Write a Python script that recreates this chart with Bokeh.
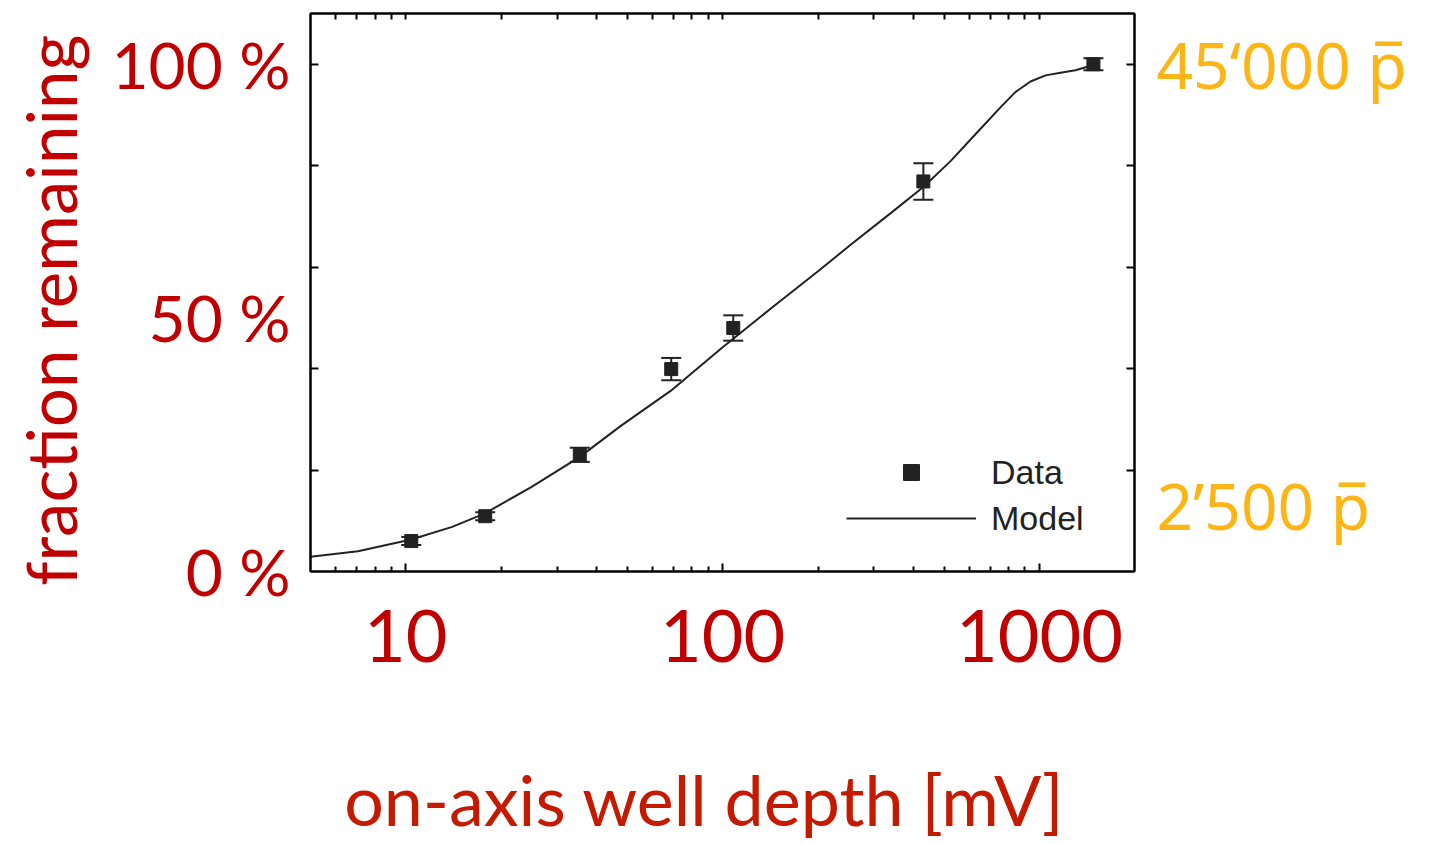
from bokeh.plotting import figure
from bokeh.models import (LogAxis, LinearAxis, FixedTicker, Range1d, Whisker, TeeHead,
                          ColumnDataSource, Legend, LegendItem)
from bokeh.embed import file_html
from bokeh.resources import INLINE

# ---- data ----
data_x = [10.4, 17.8, 35.4, 68.8, 108, 430, 1480]
data_y = [6.0, 10.9, 23.0, 39.9, 48.0, 76.9, 100.0]
data_err = [0.8, 0.8, 1.4, 2.2, 2.5, 3.6, 1.2]

model_x = [5.0, 7.06, 10.4, 14.0, 17.7, 24.8, 35.4, 47.7, 68.5, 100, 141.6, 200, 253.5,
           340, 430, 524, 628, 753, 839, 937, 1045, 1165, 1299, 1417, 1480]
model_y = [2.9, 4.0, 6.3, 8.8, 11.4, 16.6, 22.6, 28.7, 35.6, 44.2, 51.8, 59.2, 64.4,
           70.7, 75.8, 80.9, 86.2, 91.5, 94.5, 96.6, 97.8, 98.3, 98.8, 99.5, 100.0]

left_ticks = [0, 50, 100]
left_labels = ["0 %", "50 %", "100 %"]
right_ticks = [13, 100]
right_labels = ["2\u2019500 p\u0305", "45\u2018000 p\u0305"]
y_minor = [20, 40, 60, 80, 100]
x_major = [10, 100, 1000]
x_labels = ["10", "100", "1000"]
x_minor = [6, 7, 8, 9, 20, 30, 40, 50, 60, 70, 80, 90,
           200, 300, 400, 500, 600, 700, 800, 900]
x_title = "on-axis well depth [mV]"
y_title = "fraction remaining"

RED = "#c00000"
RED2 = "#c41a00"
ORANGE = "#fdb515"
INK = "#222222"
FONT = "Lato"
PAD = "\u00a0\u00a0"   # trailing non-breaking spaces: shift titles off-centre like the reference

p = figure(width=1430, height=844, x_axis_type="log",
           x_range=Range1d(5, 1995), y_range=Range1d(0, 110),
           output_backend="svg", toolbar_location=None,
           min_border_left=310, min_border_right=296,
           min_border_top=13, min_border_bottom=273)
p.grid.visible = False
p.outline_line_color = "black"
p.outline_line_width = 2
p.background_fill_color = "white"
p.border_fill_color = "white"

# bottom axis
xa = p.xaxis[0]
xa.ticker = FixedTicker(ticks=x_major, minor_ticks=x_minor)
xa.major_label_overrides = dict(zip(x_major, x_labels))
xa.major_tick_in = 8
xa.major_tick_out = 0
xa.minor_tick_in = 5
xa.minor_tick_out = 0
xa.axis_line_width = 2
xa.major_tick_line_width = 2
xa.minor_tick_line_width = 2
xa.major_label_text_font = FONT
xa.major_label_text_font_size = "72px"
xa.major_label_text_color = RED
xa.major_label_standoff = 38
xa.axis_label = x_title + PAD
xa.axis_label_text_font = FONT
xa.axis_label_text_font_style = "normal"
xa.axis_label_text_font_size = "70px"
xa.axis_label_text_color = RED2
xa.axis_label_standoff = 92

# top axis (ticks only, no labels)
ta = LogAxis(ticker=FixedTicker(ticks=[], minor_ticks=x_major + x_minor),
             minor_tick_in=6, minor_tick_out=0,
             axis_line_width=2, minor_tick_line_width=2)
p.add_layout(ta, "above")

# left axis
ya = p.yaxis[0]
ya.ticker = FixedTicker(ticks=left_ticks, minor_ticks=y_minor)
ya.major_label_overrides = dict(zip(left_ticks, left_labels))
ya.major_tick_in = 0
ya.major_tick_out = 0
ya.minor_tick_in = 8
ya.minor_tick_out = 0
ya.axis_line_width = 2
ya.minor_tick_line_width = 2
ya.major_label_text_font = FONT
ya.major_label_text_font_size = "64px"
ya.major_label_text_color = RED
ya.major_label_standoff = 20
ya.axis_label = y_title + PAD
ya.axis_label_text_font = FONT
ya.axis_label_text_font_style = "normal"
ya.axis_label_text_font_size = "69px"
ya.axis_label_text_color = RED
ya.axis_label_standoff = 16

# right axis
ra = LinearAxis(ticker=FixedTicker(ticks=right_ticks, minor_ticks=y_minor),
                major_label_overrides=dict(zip(right_ticks, right_labels)),
                major_tick_in=0, major_tick_out=0, minor_tick_in=8, minor_tick_out=0,
                axis_line_width=2, minor_tick_line_width=2,
                major_label_text_font="Noto Sans", major_label_text_font_size="64px",
                major_label_text_color=ORANGE, major_label_standoff=22)
p.add_layout(ra, "right")

# data
src = ColumnDataSource(dict(x=data_x, y=data_y,
                            lo=[a - b for a, b in zip(data_y, data_err)],
                            hi=[a + b for a, b in zip(data_y, data_err)]))
wh = Whisker(source=src, base="x", upper="hi", lower="lo", line_width=2, line_color=INK,
             upper_head=TeeHead(size=20, line_width=2, line_color=INK),
             lower_head=TeeHead(size=20, line_width=2, line_color=INK))
p.add_layout(wh)
ln = p.line(model_x, model_y, line_width=2, line_color=INK)
sc = p.scatter("x", "y", source=src, marker="square", size=13, fill_color=INK, line_color=INK)

legend = Legend(items=[LegendItem(label="Data", renderers=[sc]),
                       LegendItem(label="Model", renderers=[ln])],
                location=(536, 33), glyph_width=130, glyph_height=40, label_height=40,
                spacing=6, padding=0, margin=0, border_line_alpha=0,
                background_fill_alpha=0, label_text_font="Liberation Sans",
                label_text_font_size="34px", label_standoff=15, label_text_color=INK)
p.add_layout(legend)

open("out.html", "w").write(file_html(p, INLINE))
